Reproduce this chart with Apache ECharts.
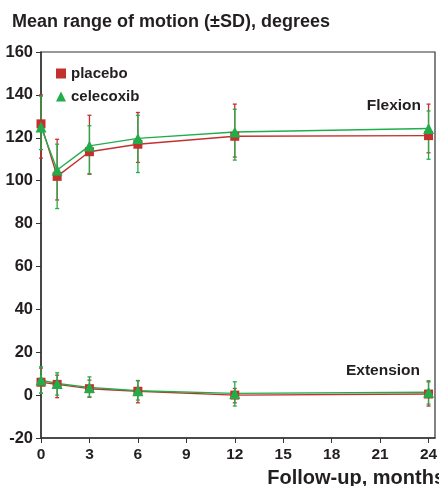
<!DOCTYPE html>
<html>
<head>
<meta charset="utf-8">
<script src="https://cdn.jsdelivr.net/npm/echarts@6/dist/echarts.min.js"></script>
<style>
  html, body { margin: 0; padding: 0; background: #fff; }
  #main { width: 439px; height: 486px; }
</style>
</head>
<body>
<div id="main"></div>
<script>
// follow-up months
var months = [0, 1, 3, 6, 12, 24];
var xTicks = [0, 3, 6, 9, 12, 15, 18, 21, 24];
var yTicks = [-20, 0, 20, 40, 60, 80, 100, 120, 140, 160];

// flexion, degrees
var flexPlacebo = [126.5, 102, 113.5, 117, 120.7, 121];
var flexPlaceboLow = [110.5, 91, 103, 108.5, 111, 113];
var flexPlaceboHigh = [140, 119.3, 130.5, 131.8, 135.7, 135.7];
var flexCelecoxib = [125, 105, 116.2, 119.7, 122.7, 124.3];
var flexCelecoxibLow = [114.5, 87, 103.3, 103.8, 109.6, 110];
var flexCelecoxibHigh = [139.4, 117, 125.6, 130.5, 133.3, 132.5];

// extension, degrees
var extPlacebo = [6, 5, 3, 1.8, 0, 0.5];
var extPlaceboLow = [0.9, -1.2, -1, -3.6, -3.6, -5.1];
var extPlaceboHigh = [12.6, 9.3, 7, 6.8, 3.1, 6.2];
var extCelecoxib = [7, 5.4, 3.6, 2, 0.8, 1.3];
var extCelecoxibLow = [0.8, 0, -0.8, -2.3, -5.1, -4.2];
var extCelecoxibHigh = [13.2, 10.4, 8.5, 6.7, 6.2, 6.7];

var RED = '#c3312f';
var GREEN = '#22ad4b';
var TEXT = '#231f20';
var FONT = '"Liberation Sans", Arial, sans-serif';

function pairs(ys) {
    return months.map(function (m, i) { return [m, ys[i]]; });
}

function bars(lo, hi) {
    return months.map(function (m, i) { return [m, lo[i], hi[i]]; });
}

function errorSeries(name, color, lo, hi) {
    return {
        name: name,
        type: 'custom',
        clip: false,
        silent: true,
        itemStyle: { color: color },
        data: bars(lo, hi),
        renderItem: function (params, api) {
            var top = api.coord([api.value(0), api.value(2)]);
            var bot = api.coord([api.value(0), api.value(1)]);
            var w = 2;
            var style = { stroke: color, lineWidth: 1.3 };
            return {
                type: 'group',
                children: [
                    { type: 'line', shape: { x1: top[0], y1: top[1], x2: bot[0], y2: bot[1] }, style: style },
                    { type: 'line', shape: { x1: top[0] - w, y1: top[1], x2: top[0] + w, y2: top[1] }, style: style },
                    { type: 'line', shape: { x1: bot[0] - w, y1: bot[1], x2: bot[0] + w, y2: bot[1] }, style: style }
                ]
            };
        }
    };
}

function lineSeries(name, color, ys, symbol, size) {
    return {
        name: name,
        type: 'line',
        clip: false,
        data: pairs(ys),
        symbol: symbol,
        symbolSize: size,
        showAllSymbol: true,
        lineStyle: { color: color, width: 1.4 },
        itemStyle: { color: color }
    };
}

var myChart = echarts.init(document.getElementById('main'));

var option = {
    animation: false,
    color: [RED, GREEN],
    textStyle: { fontFamily: FONT },
    title: {
        text: 'Mean range of motion (±SD), degrees',
        left: 7,
        top: 8,
        textStyle: { fontSize: 18, fontWeight: 'bold', color: TEXT, fontFamily: FONT }
    },
    legend: {
        orient: 'vertical',
        left: 51,
        top: 61,
        itemWidth: 10,
        itemHeight: 10,
        itemGap: 8,
        textStyle: { fontSize: 15, fontWeight: 'bold', color: TEXT, fontFamily: FONT },
        data: [
            { name: 'placebo', icon: 'rect', itemStyle: { color: RED } },
            { name: 'celecoxib', icon: 'triangle', itemStyle: { color: GREEN } }
        ]
    },
    grid: {
        left: 41,
        top: 52,
        right: 4,
        bottom: 48,
        containLabel: false,
        outerBoundsMode: 'none',
        show: true,
        borderColor: '#333',
        borderWidth: 1.2
    },
    xAxis: {
        type: 'value',
        min: 0,
        max: 24.4,
        interval: 3,
        name: 'Follow-up, months',
        nameLocation: 'end',
        nameGap: 0,
        nameTextStyle: {
            fontSize: 20, fontWeight: 'bold', color: TEXT, fontFamily: FONT,
            align: 'right', verticalAlign: 'top', padding: [30, -10, 0, 0]
        },
        splitLine: { show: false },
        axisLine: { onZero: false, lineStyle: { color: '#333', width: 1.5 } },
        axisTick: { length: 5, lineStyle: { color: '#333' } },
        axisLabel: {
            margin: 9,
            fontSize: 15.5,
            fontWeight: 'bold',
            color: TEXT,
            fontFamily: FONT,
            showMaxLabel: false,
            formatter: function (v) { return xTicks.indexOf(v) >= 0 ? String(v) : ''; }
        }
    },
    yAxis: {
        type: 'value',
        min: -20,
        max: 160,
        interval: 20,
        splitLine: { show: false },
        axisLine: { show: true, onZero: false, lineStyle: { color: '#333', width: 1.5 } },
        axisTick: { show: true, length: 5, lineStyle: { color: '#333' } },
        axisLabel: {
            margin: 8,
            fontSize: 16.5,
            fontWeight: 'bold',
            color: TEXT,
            fontFamily: FONT,
            formatter: function (v) { return yTicks.indexOf(v) >= 0 ? String(v) : ''; }
        }
    },
    graphic: [
        {
            type: 'text', right: 18, top: 98,
            style: { text: 'Flexion', font: 'bold 15.5px ' + FONT, fill: TEXT }
        },
        {
            type: 'text', right: 19, top: 363,
            style: { text: 'Extension', font: 'bold 15.5px ' + FONT, fill: TEXT }
        }
    ],
    series: [
        errorSeries('placebo', RED, flexPlaceboLow, flexPlaceboHigh),
        errorSeries('placebo', RED, extPlaceboLow, extPlaceboHigh),
        lineSeries('placebo', RED, flexPlacebo, 'rect', 9),
        lineSeries('placebo', RED, extPlacebo, 'rect', 9),
        errorSeries('celecoxib', GREEN, flexCelecoxibLow, flexCelecoxibHigh),
        errorSeries('celecoxib', GREEN, extCelecoxibLow, extCelecoxibHigh),
        lineSeries('celecoxib', GREEN, flexCelecoxib, 'triangle', 11),
        lineSeries('celecoxib', GREEN, extCelecoxib, 'triangle', 11)
    ]
};

myChart.setOption(option);
</script>
</body>
</html>
